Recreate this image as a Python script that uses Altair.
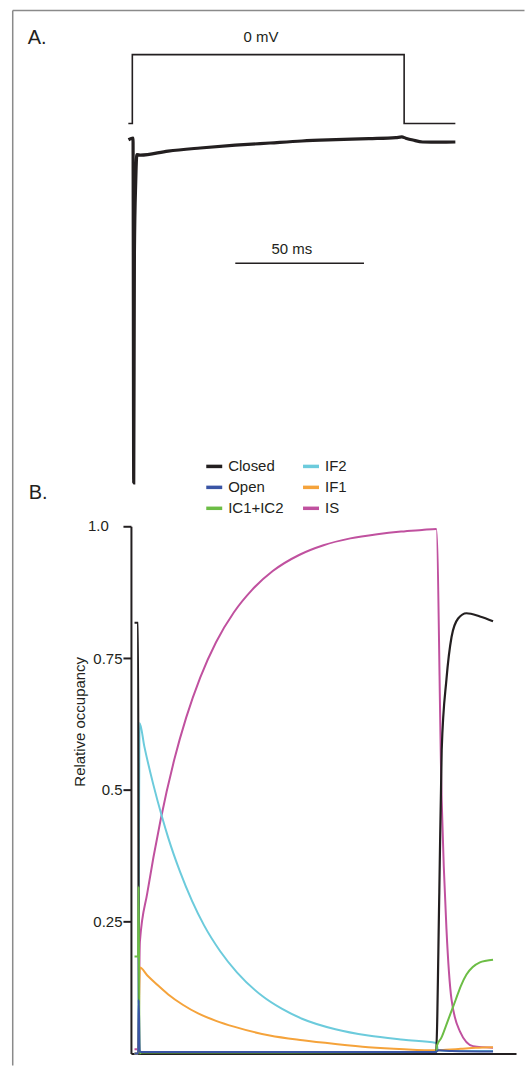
import altair as alt
import pandas as pd

INK = "#231f20"
FONT = "Liberation Sans"

# ---------------- Panel A: protocol and current ----------------
# voltage step (mV) against time (ms)
step_t = [-1.55, 0.0, 0.0, 105.6, 105.6, 125.5]
step_mv = [-120, -120, 0, 0, -120, -120]

# normalised current trace (peak = -1)
trace_t = [-1.5, 0.27, 0.54, 0.81, 1.32, 1.78, 3.14, 13.9, 26.4, 40.0, 53.5,
           65.9, 79.1, 91.9, 102.4, 104.7, 106.2, 109.0, 112.8, 119.4, 125.5]
trace_i = [-0.003, 0.0015, -1.0, -0.33, -0.125, -0.046, -0.048, -0.036, -0.027,
           -0.019, -0.0125, -0.0067, -0.003, 0.0, 0.003, 0.005, 0.0015, -0.004,
           -0.0096, -0.0101, -0.0096]

# 50 ms scale bar
bar_t = [40, 90]
bar_level = -0.362

# ---------------- Panel B: state occupancies ----------------
closed_t = [-1.3, -0.1, 0.15, 1, 20, 50, 80, 99.7, 100.8, 101.6, 103.2, 104.9,
            107.1, 109.9, 114.4, 118.8]
closed_v = [0.817, 0.817, 0.0, 0.0, 0.0, 0.0, 0.0, 0.0, 0.305, 0.575, 0.71, 0.79,
            0.825, 0.835, 0.829, 0.82]

open_t = [-1.3, -0.1, 0.1, 0.45, 1, 50, 99.7, 100.5, 105, 118.8]
open_v = [0.0, 0.0, 0.102, 0.004, 0.003, 0.003, 0.003, 0.006, 0.005, 0.004]

ic_t = [-1.3, -0.1, 0.05, 0.4, 1, 50, 99.8, 100.0, 101.5, 103, 104.7, 106.3,
        108, 109.9, 112, 114.4, 116.5, 118.8]
ic_v = [0.184, 0.184, 0.317, 0.0, 0.002, 0.002, 0.003, 0.015, 0.03, 0.052, 0.078,
        0.102, 0.128, 0.15, 0.164, 0.173, 0.176, 0.178]

if2_t = [-1.3, -0.1, 0.4, 2, 5, 7.9, 10, 14, 18, 22, 27.4, 33, 41.5, 48, 54.8,
         66, 77, 88.9, 99.8, 100.4, 105, 118.8]
if2_v = [0.0, 0.0, 0.627, 0.582, 0.51, 0.449, 0.409, 0.344, 0.289, 0.243, 0.194,
         0.154, 0.109, 0.085, 0.066, 0.046, 0.034, 0.026, 0.02, 0.006, 0.005, 0.005]

if1_t = [-1.3, -0.1, 0.5, 3, 6, 10, 15, 20, 26, 32, 44, 55, 66, 77, 89, 99.8,
         103, 108, 113, 118.8]
if1_v = [0.0, 0.0, 0.163, 0.148, 0.132, 0.112, 0.092, 0.076, 0.062, 0.051, 0.034,
         0.025, 0.018, 0.012, 0.008, 0.006, 0.007, 0.009, 0.011, 0.012]

is_t = [-1.3, -0.1, 0.5, 3, 7.4, 12, 16, 20.7, 26, 32, 38, 45, 54, 62, 71, 80,
        88, 95, 99.8, 101.6, 103.2, 104.9, 107.7, 112.1, 118.8]
is_v = [0.008, 0.008, 0.212, 0.305, 0.442, 0.557, 0.637, 0.713, 0.78, 0.837, 0.879,
        0.915, 0.946, 0.964, 0.977, 0.985, 0.99, 0.993, 0.995, 0.48, 0.236, 0.102,
        0.042, 0.014, 0.011]

# legend order (two columns, filled column by column) and colours
states = ["Closed", "Open", "IC1+IC2", "IF2", "IF1", "IS"]
state_colors = ["#231f20", "#3a55a5", "#6cbd45", "#6ccbdc", "#f5a33b", "#c0519f"]
draw_order = ["IS", "IF2", "IF1", "Closed", "IC1+IC2", "Open"]

# y-axis tick values; the top one is labelled separately, set further left
y_ticks = [0.25, 0.5, 0.75, 1.0]
y_top_label = "1.0"

series = {
    "Closed": (closed_t, closed_v),
    "Open": (open_t, open_v),
    "IC1+IC2": (ic_t, ic_v),
    "IF2": (if2_t, if2_v),
    "IF1": (if1_t, if1_v),
    "IS": (is_t, is_v),
}

# ---------------- build panel A ----------------
step_df = pd.DataFrame({"t": step_t, "mv": step_mv, "k": range(len(step_t))})
trace_df = pd.DataFrame({"t": trace_t, "cur": trace_i})
bar_df = pd.DataFrame({"t0": [bar_t[0]], "t1": [bar_t[1]], "cur": [bar_level],
                       "tm": [62.0], "s": ["50 ms"]})
mv_label = pd.DataFrame({"t": [50], "mv": [0], "s": ["0 mV"]})
one = pd.DataFrame({"k": [0]})

xa = alt.Scale(domain=[-0.54, 149.07], nice=False, zero=False)
y_mv = alt.Scale(domain=[-776.8, 39.42], nice=False, zero=False)
y_cur = alt.Scale(domain=[-1.0522, 0.3101], nice=False, zero=False)

step = alt.Chart(step_df).mark_line(color=INK, strokeWidth=1.6).encode(
    x=alt.X("t:Q", scale=xa, axis=None),
    y=alt.Y("mv:Q", scale=y_mv, axis=None),
    order="k:Q",
)
mv_text = alt.Chart(mv_label).mark_text(
    font=FONT, fontSize=15, color=INK, dy=-17.5, baseline="middle", align="center"
).encode(
    x=alt.X("t:Q", scale=xa, axis=None),
    y=alt.Y("mv:Q", scale=y_mv, axis=None),
    text="s:N",
)
trace = alt.Chart(trace_df).mark_line(
    color=INK, strokeWidth=3.2, interpolate="monotone"
).encode(
    x=alt.X("t:Q", scale=xa, axis=None),
    y=alt.Y("cur:Q", scale=y_cur, axis=None),
)
bar = alt.Chart(bar_df).mark_rule(color=INK, strokeWidth=1.5).encode(
    x=alt.X("t0:Q", scale=xa, axis=None),
    x2="t1:Q",
    y=alt.Y("cur:Q", scale=y_cur, axis=None),
)
bar_text = alt.Chart(bar_df).mark_text(
    font=FONT, fontSize=15, color=INK, dy=-14, baseline="middle", align="center"
).encode(
    x=alt.X("tm:Q", scale=xa, axis=None),
    y=alt.Y("cur:Q", scale=y_cur, axis=None),
    text="s:N",
)
label_a = alt.Chart(pd.DataFrame({"s": ["A."]})).mark_text(
    font=FONT, fontSize=20, color=INK, align="left", baseline="middle"
).encode(x=alt.value(-103.5), y=alt.value(6), text="s:N")

frame_color = "#8a8a8a"
frame_top = alt.Chart(one).mark_rule(color=frame_color, strokeWidth=1.5).encode(
    x=alt.value(-118.5), x2=alt.value(394.5), y=alt.value(-21.5)
)
frame_left = alt.Chart(one).mark_rule(color=frame_color, strokeWidth=1.5).encode(
    x=alt.value(-118.5), y=alt.value(-21.5), y2=alt.value(1036)
)

panel_a = alt.layer(
    frame_top, frame_left, step, mv_text, trace, bar, bar_text, label_a
).resolve_scale(y="independent").properties(width=386, height=470)

# ---------------- build panel B ----------------
rows = []
for name, (ts, vs) in series.items():
    for t, v in zip(ts, vs):
        rows.append({"state": name, "t": t, "occ": v})
occ = pd.DataFrame(rows)

xb = alt.Scale(domain=[-2.5, 126.5], nice=False, zero=False)
yb = alt.Scale(domain=[0, 1], nice=False, zero=False)
cscale = alt.Scale(domain=states, range=state_colors)

x_axis = alt.Axis(
    title=None, labels=False, ticks=False, grid=False, domain=True,
    domainColor=INK, domainWidth=2,
)
y_axis = alt.Axis(
    values=y_ticks,
    labelExpr="datum.value == 1 ? '' : toString(datum.value)",
    grid=False, domainColor=INK, domainWidth=2, tickColor=INK, tickWidth=2,
    tickSize=8, labelFont=FONT, labelFontSize=15, labelColor=INK, labelPadding=1,
    title="Relative occupancy", titleFont=FONT, titleFontSize=15,
    titleFontWeight="normal", titleColor=INK, titleAngle=270, titleAlign="center",
    titleBaseline="middle", titleX=-51.5, titleY=195.5,
)
legend = alt.Legend(
    title=None, orient="none", legendX=73.5, legendY=-70, columns=2,
    symbolType="stroke", symbolStrokeWidth=3.5, symbolSize=256,
    labelFont=FONT, labelFontSize=15, labelColor=INK, labelOffset=4,
    columnPadding=12, rowPadding=3, padding=0,
)

layers_b = []
for name in draw_order:
    layers_b.append(
        alt.Chart(occ[occ["state"] == name]).mark_line(
            strokeWidth=2.2 if name == "Closed" else 2, interpolate="monotone"
        ).encode(
            x=alt.X("t:Q", scale=xb, axis=x_axis),
            y=alt.Y("occ:Q", scale=yb, axis=y_axis),
            color=alt.Color("state:N", scale=cscale, legend=legend),
        )
    )
top_label = alt.Chart(pd.DataFrame({"occ": [y_ticks[-1]], "s": [y_top_label]})).mark_text(
    font=FONT, fontSize=15, color=INK, align="right", baseline="middle"
).encode(x=alt.value(-22.2), y=alt.Y("occ:Q", scale=yb, axis=y_axis), text="s:N")
label_b = alt.Chart(pd.DataFrame({"s": ["B."]})).mark_text(
    font=FONT, fontSize=20, color=INK, align="left", baseline="middle"
).encode(x=alt.value(-102.5), y=alt.value(-33.5), text="s:N")

panel_b = alt.layer(*layers_b, top_label, label_b).properties(width=386, height=528.5)

chart = alt.vconcat(
    panel_a, panel_b, spacing=25.5, bounds="flush",
    padding={"left": 11.25, "top": 7.75, "right": 0, "bottom": 0},
).resolve_scale(color="independent").resolve_legend(color="independent").configure_view(
    stroke="transparent"
)

chart.save("out.html", embed_options={"renderer": "svg", "actions": False})
